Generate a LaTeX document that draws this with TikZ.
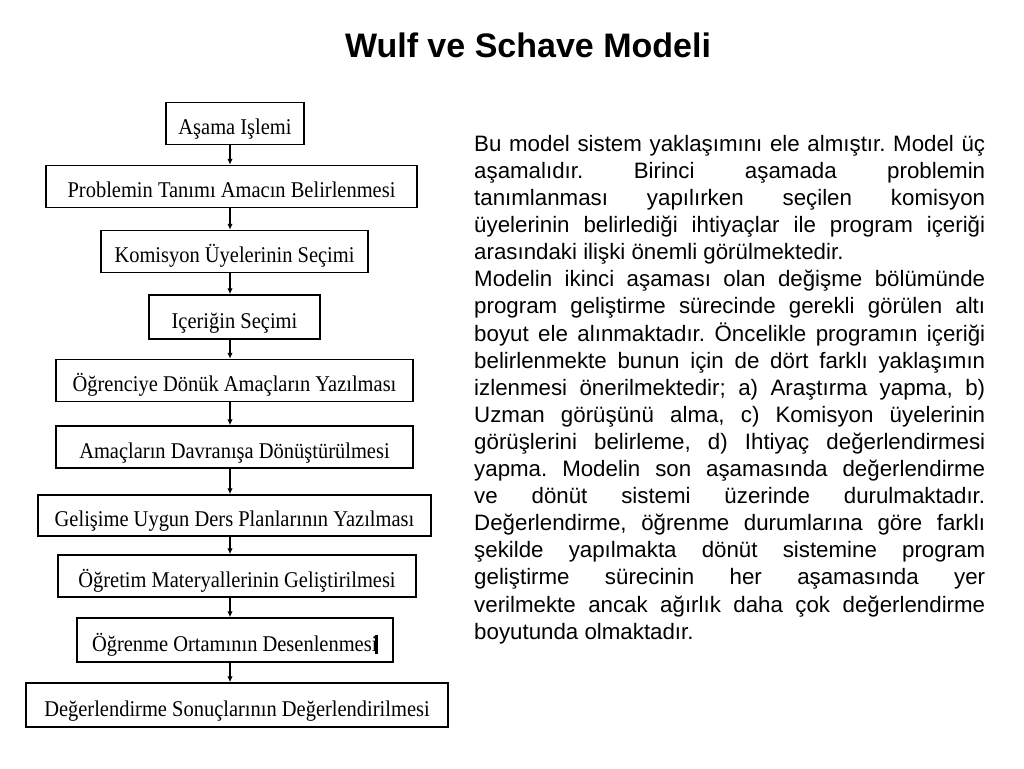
\documentclass[tikz,border=0pt]{standalone}
\usepackage{fontspec}
\setmainfont{Liberation Sans}
\newfontfamily\kutufont[FakeStretch=0.91]{Liberation Serif}
\usetikzlibrary{arrows.meta,positioning}

\begin{document}
\begin{tikzpicture}[x=1pt,y=-1pt,
  stagebox/.style={draw=black,line width=1.4pt,fill=white,inner sep=0pt,
    minimum height=42pt,text height=23pt,text depth=1pt,
    font=\kutufont\fontsize{22.5}{26}\selectfont},
  flow/.style={line width=1.2pt,-{Latex[length=6pt,width=5.5pt]}}]
\useasboundingbox (0,0) rectangle (1024,768);
\fill[white] (0,0) rectangle (1024,768);

\node[anchor=base,font=\bfseries\fontsize{34}{40}\selectfont] (baslik) at (528,57) {Wulf ve Schave Modeli};

% akis semasi
\node[stagebox,minimum width=138pt] (islem)    at (235,123.5) {Aşama Işlemi};
\node[stagebox,minimum width=371pt] (problem)  at (231.5,186.5) {Problemin Tanımı Amacın Belirlenmesi};
\node[stagebox,minimum width=267pt] (komisyon) at (234.5,251.5) {Komisyon Üyelerinin Seçimi};
\node[stagebox,minimum width=171pt,minimum height=44pt] (icerik) at (234.5,317) {Içeriğin Seçimi};
\node[stagebox,minimum width=357pt] (amaclar)  at (234.5,380.5) {Öğrenciye Dönük Amaçların Yazılması};
\node[stagebox,minimum width=357pt] (davranis) at (234.5,447) {Amaçların Davranışa Dönüştürülmesi};
\node[stagebox,minimum width=393pt,minimum height=41pt] (plan) at (234.5,515.5) {Gelişime Uygun Ders Planlarının Yazılması};
\node[stagebox,minimum width=358pt] (materyal) at (237,576) {Öğretim Materyallerinin Geliştirilmesi};
\node[stagebox,minimum width=316pt,minimum height=44pt] (ortam) at (235,640) {Öğrenme Ortamının Desenlenmesi\hspace{-2.5pt}\rule[-3pt]{3pt}{19pt}};
\node[stagebox,minimum width=422pt,minimum height=44pt] (sonuc) at (237,705) {Değerlendirme Sonuçlarının Değerlendirilmesi};

\coordinate (ax) at (230,0);
\foreach \a/\b in {islem/problem,problem/komisyon,komisyon/icerik,icerik/amaclar,
                   amaclar/davranis,davranis/plan,plan/materyal,materyal/ortam,ortam/sonuc}
  \draw[flow] (\a.south -| ax) -- (\b.north -| ax);

% aciklama metni
\node[anchor=north west,inner sep=0pt,text width=511pt,align=justify,
      font=\fontsize{22.3}{27.1}\selectfont] (metin) at (474,135) {%
\parindent=0pt\frenchspacing\hyphenpenalty=10000
Bu model sistem yaklaşımını ele almıştır. Model üç\linebreak
aşamalıdır. Birinci aşamada problemin\linebreak
tanımlanması yapılırken seçilen komisyon\linebreak
üyelerinin belirlediği ihtiyaçlar ile program içeriği\linebreak
arasındaki ilişki önemli görülmektedir.\par
Modelin ikinci aşaması olan değişme bölümünde\linebreak
program geliştirme sürecinde gerekli görülen altı\linebreak
boyut ele alınmaktadır. Öncelikle programın içeriği\linebreak
belirlenmekte bunun için de dört farklı yaklaşımın\linebreak
izlenmesi önerilmektedir; a) Araştırma yapma, b)\linebreak
Uzman görüşünü alma, c) Komisyon üyelerinin\linebreak
görüşlerini belirleme, d) Ihtiyaç değerlendirmesi\linebreak
yapma. Modelin son aşamasında değerlendirme\linebreak
ve dönüt sistemi üzerinde durulmaktadır.\linebreak
Değerlendirme, öğrenme durumlarına göre farklı\linebreak
şekilde yapılmakta dönüt sistemine program\linebreak
geliştirme sürecinin her aşamasında yer\linebreak
verilmekte ancak ağırlık daha çok değerlendirme\linebreak
boyutunda olmaktadır.};
\end{tikzpicture}
\end{document}
